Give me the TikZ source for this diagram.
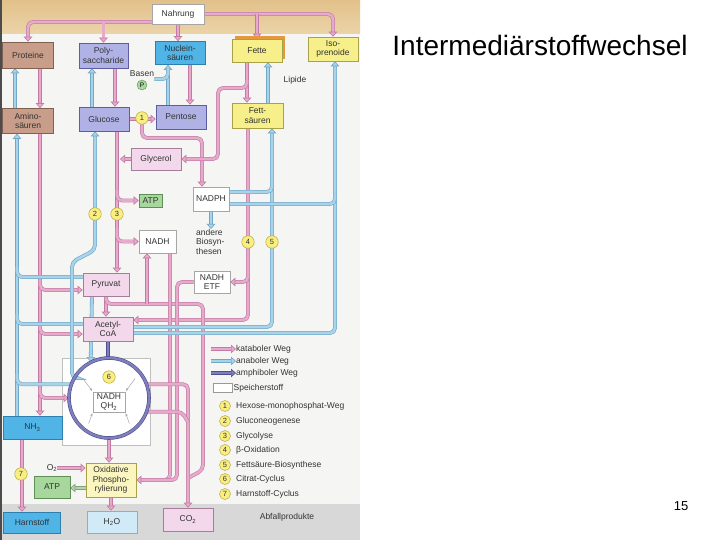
\documentclass[tikz,border=0pt]{standalone}
\usepackage{fontspec}
\setmainfont{Liberation Sans}
\usetikzlibrary{arrows.meta}
\pgfdeclarelayer{bglayer}
\pgfdeclarelayer{pipelayer}
\pgfsetlayers{bglayer,pipelayer,main}
\definecolor{katc}{HTML}{E6AACB}
\definecolor{katd}{HTML}{C47AA4}
\definecolor{anac}{HTML}{A8D3E8}
\definecolor{anad}{HTML}{6FA8C8}
\definecolor{amphc}{HTML}{7F7FBC}
\definecolor{amphd}{HTML}{4E4E92}
\definecolor{atpc}{HTML}{B9D3B0}
\definecolor{atpd}{HTML}{7FA276}
\definecolor{brownf}{HTML}{C89D89}
\definecolor{brownd}{HTML}{80604F}
\definecolor{lavf}{HTML}{B0B2E6}
\definecolor{lavd}{HTML}{5C5EA0}
\definecolor{nucf}{HTML}{50B4E6}
\definecolor{nucd}{HTML}{2D7FAE}
\definecolor{yelf}{HTML}{F6EF8A}
\definecolor{yeld}{HTML}{A9A14A}
\definecolor{pinkf}{HTML}{F3D8EC}
\definecolor{pinkd}{HTML}{A67C98}
\definecolor{greenf}{HTML}{A7D79D}
\definecolor{greend}{HTML}{608F56}
\definecolor{h2of}{HTML}{D0EAF7}
\definecolor{oxf}{HTML}{FBF6BF}
\definecolor{numf}{HTML}{F8EF80}
\definecolor{numd}{HTML}{BBA840}
\definecolor{pagec}{HTML}{F5F5F3}
\definecolor{tanA}{HTML}{E2C08A}
\definecolor{tanB}{HTML}{EBD4A9}
\definecolor{bandc}{HTML}{D8D8D8}
\definecolor{shadowc}{HTML}{E39A3C}
\definecolor{txtc}{HTML}{333333}
\tikzset{
  dfont/.style={font=\fontsize{8.5}{9.6}\selectfont},
  bx/.style={draw, line width=0.6pt, dfont, align=center, inner sep=1pt, text=txtc},
  pipe/.style={line width=0.6pt, double distance=2.6pt, rounded corners=5pt},
  kat/.style={pipe, draw=katd, double=katc, -{Triangle[length=5pt,width=8.5pt,fill=katc]}},
  katn/.style={pipe, draw=katd, double=katc},
  ana/.style={pipe, draw=anad, double=anac, -{Triangle[length=5pt,width=8.5pt,fill=anac]}},
  anan/.style={pipe, draw=anad, double=anac},
  amph/.style={pipe, draw=amphd, double=amphc},
  atpa/.style={pipe, draw=atpd, double=atpc, -{Triangle[length=5pt,width=8.5pt,fill=atpc]}},
  num/.style={circle, draw=numd, fill=numf, line width=0.5pt, minimum size=12.5pt, inner sep=0pt, font=\fontsize{7.5}{7.5}\selectfont, text=txtc},
  inar/.style={draw=gray!70, line width=0.5pt, -{Stealth[length=3pt]}, shorten <=8pt, shorten >=1pt},
  lbl/.style={dfont, inner sep=0pt, text=txtc},
}
\begin{document}
\begin{tikzpicture}[x=1pt,y=-1pt]
\useasboundingbox (0,0) rectangle (720,540);
\begin{pgfonlayer}{bglayer}
  \fill[white] (0,0) rectangle (720,540);
  \fill[pagec] (0,0) rectangle (360,540);
  \shade[top color=tanA, bottom color=tanB] (0,0) rectangle (360,34);
  \fill[bandc] (0,504) rectangle (360,540);
  \fill[black!70] (0,0) rectangle (2,540);
  \draw[gray!50, line width=0.5pt, fill=white] (62,358) rectangle (150,445);
\end{pgfonlayer}

% nodes
\node[bx, draw=gray!70, fill=white, minimum width=52pt, minimum height=20pt] (nahrung) at (178,14) {Nahrung};
\node[bx, draw=brownd, fill=brownf, minimum width=51pt, minimum height=26pt] (prot) at (28,55) {Proteine};
\node[bx, draw=lavd, fill=lavf, minimum width=49pt, minimum height=25pt] (poly) at (103.5,55.5) {Poly-\\saccharide};
\node[bx, draw=nucd, fill=nucf, minimum width=50pt, minimum height=23pt] (nuc) at (180,53) {Nuclein-\\säuren};
\fill[shadowc] (235,36) rectangle (285,59);
\node[bx, draw=yeld, fill=yelf, minimum width=50pt, minimum height=23pt] (fette) at (257,50.5) {Fette};
\node[bx, draw=yeld, fill=yelf, minimum width=50pt, minimum height=24pt] (iso) at (333,49) {Iso-\\prenoide};
\node[lbl] (lipide) at (295,80) {Lipide};
\node[lbl] (basen) at (142,74) {Basen};
\node[circle, draw=greend, fill=greenf, minimum size=10pt, inner sep=0pt, font=\fontsize{6.5}{6.5}\selectfont] (phos) at (142,85) {P};
\node[bx, draw=brownd, fill=brownf, minimum width=51pt, minimum height=25pt] (amino) at (28,121) {Amino-\\säuren};
\node[bx, draw=lavd, fill=lavf, minimum width=50pt, minimum height=24pt] (glucose) at (104,119) {Glucose};
\node[bx, draw=lavd, fill=lavf, minimum width=50pt, minimum height=24pt] (pentose) at (181,117) {Pentose};
\node[bx, draw=yeld, fill=yelf, minimum width=51pt, minimum height=25pt] (fettsr) at (257.5,115.5) {Fett-\\säuren};
\node[bx, draw=pinkd, fill=pinkf, minimum width=50pt, minimum height=22pt] (glycerol) at (156,159) {Glycerol};
\node[bx, draw=greend, fill=greenf, minimum width=23pt, minimum height=13pt] (atp1) at (150.5,200.5) {ATP};
\node[bx, draw=gray!70, fill=white, minimum width=36pt, minimum height=24pt] (nadph) at (211,199) {NADPH};
\node[lbl, align=left, anchor=north west] (andere) at (196,229) {andere\\Biosyn-\\thesen};
\node[bx, draw=gray!70, fill=white, minimum width=37pt, minimum height=23pt] (nadh) at (157.5,241.5) {NADH};
\node[bx, draw=gray!70, fill=white, minimum width=36pt, minimum height=22pt] (etf) at (212,282) {NADH\\ETF};
\node[bx, draw=pinkd, fill=pinkf, minimum width=46pt, minimum height=23pt] (pyruvat) at (106,284.5) {Pyruvat};
\node[bx, draw=pinkd, fill=pinkf, minimum width=50pt, minimum height=24pt] (acetyl) at (108,329) {Acetyl-\\CoA};
\node[circle, draw=amphd, double=amphc, double distance=2.4pt, line width=0.6pt, minimum size=80pt, inner sep=0pt] (cyc) at (109,398) {};
\node[bx, draw=gray!70, fill=white, minimum width=32pt, minimum height=20pt] (nadhqh) at (109,402) {NADH\\QH\textsubscript{2}};
\node[bx, draw=nucd, fill=nucf, minimum width=59pt, minimum height=23pt] (nh3) at (32.5,427.5) {NH\textsubscript{3}};
\node[lbl] (o2) at (52,468) {O\textsubscript{2}};
\node[bx, draw=greend, fill=greenf, minimum width=36pt, minimum height=22pt] (atp2) at (52,487) {ATP};
\node[bx, draw=yeld, fill=oxf, minimum width=50pt, minimum height=34pt] (oxphos) at (111,480) {Oxidative\\Phospho-\\rylierung};
\node[bx, draw=nucd, fill=nucf, minimum width=57pt, minimum height=21pt] (harnstoff) at (32,522.5) {Harnstoff};
\node[bx, draw=nucd!60, fill=h2of, minimum width=50pt, minimum height=22pt] (h2o) at (112,522) {H\textsubscript{2}O};
\node[bx, draw=pinkd, fill=pinkf, minimum width=50pt, minimum height=23pt] (co2) at (188,519.5) {CO\textsubscript{2}};
\node[lbl] (abfall) at (287,517) {Abfallprodukte};

\node[num] (c1) at (142,118) {1};
\node[num] (c2) at (95,214) {2};
\node[num] (c3) at (117,214) {3};
\node[num] (c4) at (248,242) {4};
\node[num] (c5) at (272,242) {5};
\node[num] (c6) at (109,377) {6};
\node[num] (c7) at (21,474) {7};

% legend
\coordinate (lk) at (211,349);
\node[lbl, anchor=west] (tk) at (236,349) {kataboler Weg};
\coordinate (la) at (211,361);
\node[lbl, anchor=west] (ta) at (236,361) {anaboler Weg};
\coordinate (lm) at (211,373);
\node[lbl, anchor=west] (tm) at (236,373) {amphiboler Weg};
\node[draw=gray!80, fill=white, line width=0.6pt, minimum width=19pt, minimum height=9pt, inner sep=0pt] (spbox) at (222.5,388) {};
\node[lbl, anchor=west] (tsp) at (233.5,388) {Speicherstoff};
\foreach \n/\yy/\t in {1/406/Hexose-monophosphat-Weg, 2/421/Gluconeogenese, 3/436/Glycolyse, 4/450/{β-Oxidation}, 5/465/Fettsäure-Biosynthese, 6/479/Citrat-Cyclus, 7/494/Harnstoff-Cyclus} {
  \node[num, minimum size=11pt] (n\n) at (225,\yy) {\n};
  \node[lbl, anchor=west] (tl\n) at (236,\yy) {\t};
}

% title
\node[font=\fontsize{28}{30}\selectfont, anchor=base] (title) at (540,56) {Intermediärstoffwechsel};
\node[font=\fontsize{13}{14}\selectfont, anchor=base] (pnum) at (681,510) {15};

\begin{pgfonlayer}{pipelayer}
  % katabolic
  \draw[kat] (nahrung.west |- 0,22) -- (28,22) -- (28,0 |- prot.north);
  \draw[kat] (poly.north |- 0,22) -- (poly.north);
  \draw[kat] (nahrung.south) -- (nahrung.south |- nuc.north);
  \draw[kat] (nahrung.east) -- (iso.north |- nahrung.east) -- (iso.north);
  \draw[kat] (fette.north |- nahrung.east) -- (fette.north);
  \draw[kat] (40,0 |- prot.south) -- (40,0 |- amino.north);
  \draw[kat] (40,0 |- amino.south) -- (40,0 |- nh3.north);
  \draw[kat] (40,280) |- (pyruvat.west |- 0,290);
  \draw[kat] (40,324) |- (acetyl.west |- 0,334);
  \draw[kat] (40,388) |- (cyc.west);
  \draw[kat] (115,0 |- poly.south) -- (115,0 |- glucose.north);
  \draw[kat] (117,0 |- glucose.south) -- (117,0 |- pyruvat.north);
  \draw[kat] (117,190) |- (atp1.west);
  \draw[kat] (117,228) |- (nadh.west);
  \draw[kat] (glycerol.west) -- (120,0 |- glycerol.west);
  \draw[kat] (190,0 |- nuc.south) -- (190,0 |- pentose.north);
  \draw[kat] (glucose.east) -- (pentose.west |- glucose.east);
  \draw[kat] (c1.south) -- (142,138) -- (202,138) -- (202,0 |- nadph.north);
  \draw[kat] (247,0 |- fette.south) -- (247,0 |- fettsr.north);
  \draw[kat] (247,80) -- (247,88) -- (218,88) -- (218,159) -- (glycerol.east);
  \draw[kat] (248,0 |- fettsr.south) -- (248,320) -- (acetyl.east |- 0,320);
  \draw[kat] (248,272) |- (etf.east);
  \draw[kat] (106,0 |- pyruvat.south) -- (106,0 |- acetyl.north);
  \draw[katn] (106,298) -- (106,304) -- (203,304) -- (203,470) -- (188,478);
  \draw[kat] (147,304) -- (147,0 |- nadh.south);
  \draw[kat] (170,0 |- nadh.south) -- (170,480) -- (oxphos.east);
  \draw[katn] (etf.west) -- (177,282) -- (177,480) -- (165,480);
  \draw[kat] (cyc.20) -- (188,0 |- cyc.20) -- (188,0 |- co2.north);
  \draw[katn] (cyc.-20) -- (182,0 |- cyc.-20) -- (188,422);
  \draw[kat] (cyc.south) -- (cyc.south |- oxphos.north);
  \draw[kat] (oxphos.south) -- (oxphos.south |- h2o.north);
  \draw[kat] (o2.east) -- (oxphos.west |- o2.east);
  \draw[atpa] (oxphos.west |- 0,488) -- (atp2.east |- 0,488);
  \draw[kat] (22,0 |- nh3.south) -- (22,0 |- harnstoff.north);
  % anabolic
  \draw[ana] (15,0 |- amino.north) -- (15,0 |- prot.south);
  \draw[ana] (17,0 |- nh3.north) -- (17,0 |- amino.south);
  \draw[anan] (pyruvat.west |- 0,277) -- (17,277) -- (17,267);
  \draw[anan] (acetyl.west |- 0,324) -- (17,324) -- (17,314);
  \draw[anan] (cyc.160) -- (17,0 |- cyc.160) -- (17,374);
  \draw[ana] (92,0 |- glucose.north) -- (92,0 |- poly.south);
  \draw[ana] (cyc.150) -- (72,0 |- cyc.150) -- (72,262) -- (95,250) -- (95,0 |- glucose.south);
  \draw[ana] (pyruvat.south -| 92,0) -- (cyc.117);
  \draw[ana] (168,0 |- pentose.north) -- (168,0 |- nuc.south);
  \draw[anan] (basen.east |- 0,79) -- (168,79) -- (168,68);
  \draw[ana] (268,0 |- fettsr.north) -- (268,0 |- fette.south);
  \draw[ana] (acetyl.east |- 0,327) -- (272,327) -- (272,0 |- fettsr.south);
  \draw[ana] (acetyl.east |- 0,333) -- (335,333) -- (335,0 |- iso.south);
  \draw[anan] (nadph.east |- 0,192) -- (272,192) -- (272,182);
  \draw[anan] (nadph.east |- 0,204) -- (335,204) -- (335,194);
  \draw[ana] (nadph.south) -- (nadph.south |- andere.north);
  % amphibolic
  \draw[amph] (acetyl.south) -- (acetyl.south |- cyc.north);
  % legend arrows
  \draw[kat] (lk) -- (tk.west);
  \draw[ana] (la) -- (ta.west);
  \draw[amph, -{Triangle[length=5pt,width=8.5pt,fill=amphc]}] (lm) -- (tm.west);
\end{pgfonlayer}
% inner arrows of the cycle
\draw[inar] (cyc.140) -- (nadhqh.north west);
\draw[inar] (cyc.40) -- (nadhqh.north east);
\draw[inar] (cyc.-125) -- (nadhqh.south west);
\draw[inar] (cyc.-55) -- (nadhqh.south east);
\end{tikzpicture}
\end{document}
